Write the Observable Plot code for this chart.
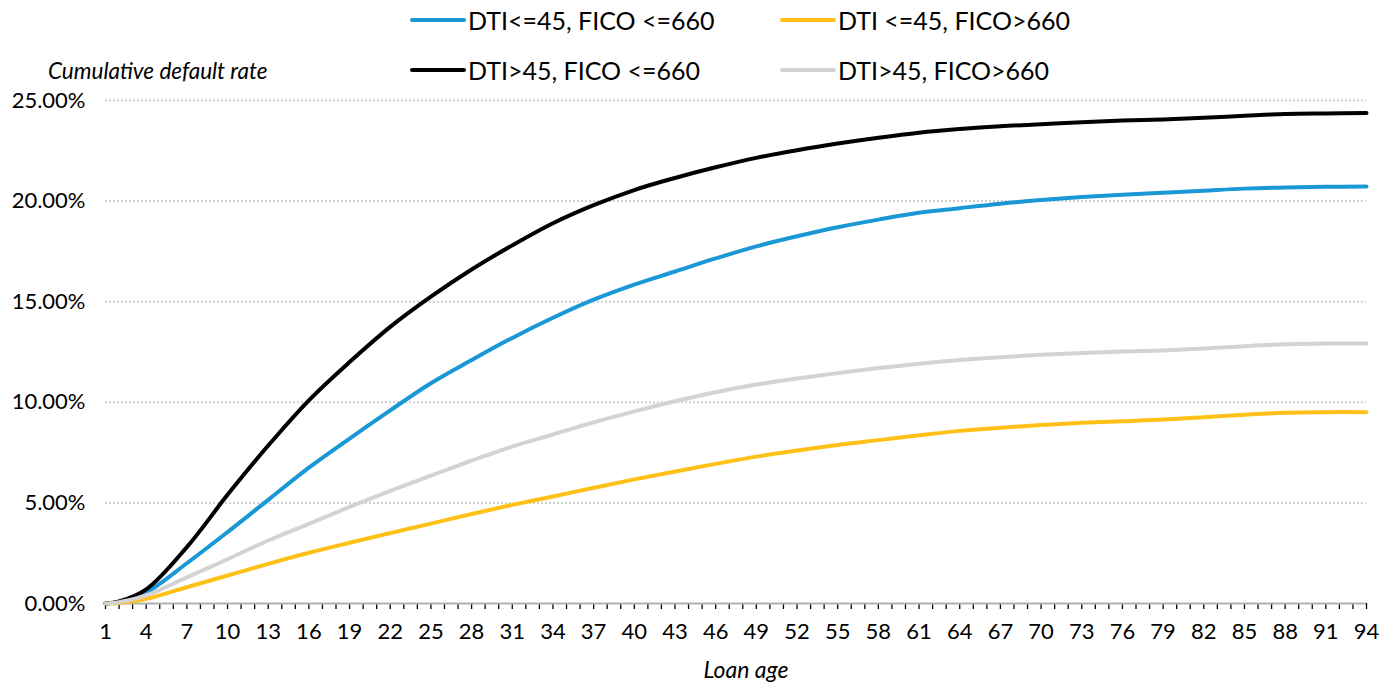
<!DOCTYPE html>
<html><head><meta charset="utf-8">
<script src="https://cdn.jsdelivr.net/npm/d3@7"></script>
<script src="https://cdn.jsdelivr.net/npm/@observablehq/plot@0.6"></script>
<style>
body{margin:0;background:#fff;font-family:Lato,sans-serif;}
#top{position:relative;width:1393px;height:84px;}
.sw{position:absolute;height:4px;border-radius:2px;}
.lt{position:absolute;font-size:25px;line-height:25px;color:#000;white-space:nowrap;}
.yl{position:absolute;font-size:22.5px;font-style:italic;line-height:23px;white-space:nowrap;}
#chart svg{overflow:visible;}
</style></head><body>
<div id="top"></div>
<div id="chart"></div>
<script>
const months = [1,2,4,7,10,13,16,19,22,25,28,31,34,37,40,43,46,49,52,55,58,61,64,67,70,73,76,79,82,85,88,91,94];
const seriesNames = ["DTI<=45, FICO <=660","DTI <=45, FICO>660","DTI>45, FICO <=660","DTI>45, FICO>660"];
const seriesColors = ["#1a98d5","#ffc117","#000000","#d3d3d3"];
const blueValues   = [0,0.08,0.55,2.0,3.55,5.15,6.75,8.2,9.6,10.95,12.1,13.2,14.2,15.1,15.85,16.5,17.15,17.75,18.25,18.7,19.08,19.42,19.65,19.87,20.05,20.2,20.32,20.42,20.52,20.62,20.68,20.71,20.72];
const yellowValues = [0,0.03,0.23,0.81,1.39,1.97,2.52,3.02,3.5,3.97,4.45,4.9,5.32,5.75,6.17,6.56,6.94,7.3,7.6,7.88,8.12,8.36,8.58,8.74,8.87,8.98,9.06,9.14,9.26,9.38,9.48,9.51,9.51];
const blackValues  = [0,0.1,0.7,2.8,5.4,7.85,10.1,12.0,13.75,15.25,16.6,17.8,18.9,19.8,20.55,21.15,21.68,22.15,22.53,22.86,23.15,23.4,23.58,23.72,23.82,23.92,24.0,24.06,24.14,24.24,24.33,24.36,24.38];
const grayValues   = [0,0.06,0.4,1.3,2.2,3.13,3.96,4.8,5.6,6.36,7.1,7.8,8.4,9.0,9.55,10.05,10.5,10.88,11.18,11.45,11.7,11.92,12.1,12.24,12.36,12.45,12.52,12.58,12.67,12.79,12.88,12.92,12.92];
const xTickLabels = [1,4,7,10,13,16,19,22,25,28,31,34,37,40,43,46,49,52,55,58,61,64,67,70,73,76,79,82,85,88,91,94];
const yTicks = [0,0.05,0.10,0.15,0.20,0.25];
const yTitle = "Cumulative default rate";
const xTitle = "Loan age";

const allValues = [blueValues, yellowValues, blackValues, grayValues];
const data = allValues.map((vals, s) => months.map((m, i) => ({month: m, value: vals[i] / 100, series: seriesNames[s]})));

// legend (HTML above the SVG)
const topDiv = document.getElementById("top");
const legendPos = [
  {sx: 410, tx: 468, y: 20},
  {sx: 780, tx: 838, y: 20},
  {sx: 410, tx: 468, y: 70},
  {sx: 780, tx: 838, y: 70}
];
seriesNames.forEach((name, i) => {
  const p = legendPos[i];
  const sw = document.createElement("div");
  sw.className = "sw";
  sw.style.cssText = `left:${p.sx}px;top:${p.y - 2}px;width:56px;background:${seriesColors[i]}`;
  topDiv.appendChild(sw);
  const t = document.createElement("div");
  t.className = "lt";
  t.style.cssText = `left:${p.tx}px;top:${p.y - 12.5}px;`;
  t.textContent = name;
  topDiv.appendChild(t);
});
const yl = document.createElement("div");
yl.className = "yl";
yl.style.cssText = "left:48px;top:59px;";
yl.textContent = yTitle;
topDiv.appendChild(yl);

const allMonths = d3.range(1, 95);
const lineOrder = [0, 1, 2, 3];
const chart = Plot.plot({
  width: 1393,
  height: 599,
  marginLeft: 105,
  marginRight: 27,
  marginTop: 16,
  marginBottom: 80,
  style: {fontFamily: "Lato, sans-serif", fontSize: "22px", color: "#000", background: "transparent"},
  x: {domain: [1, 94]},
  y: {domain: [0, 0.25]},
  marks: [
    Plot.ruleY(yTicks.filter(d => d > 0), {stroke: "#d0d0d0", strokeWidth: 2, strokeDasharray: "2,2"}),
    Plot.axisX(allMonths, {tickSize: 6, tickFormat: () => "", label: null, stroke: "#000", strokeWidth: 1.3}),
    Plot.ruleY([0], {stroke: "#b0b0b0", strokeWidth: 2}),
    Plot.axisX(xTickLabels, {tickSize: 0, tickPadding: 20, label: null, fontSize: 22}),
    Plot.axisY(yTicks, {tickSize: 0, tickPadding: 20, label: null, fontSize: 22, tickFormat: d => (d * 100).toFixed(2) + "%"}),
    ...lineOrder.map(s => Plot.line(data[s], {x: "month", y: "value", stroke: seriesColors[s], strokeWidth: 4, curve: "catmull-rom", strokeLinecap: "round", strokeLinejoin: "round"})),
    Plot.text([xTitle], {frameAnchor: "bottom", dx: 10, dy: 74, fontSize: 23, fontStyle: "italic"})
  ]
});
document.getElementById("chart").appendChild(chart);
</script>
</body></html>
